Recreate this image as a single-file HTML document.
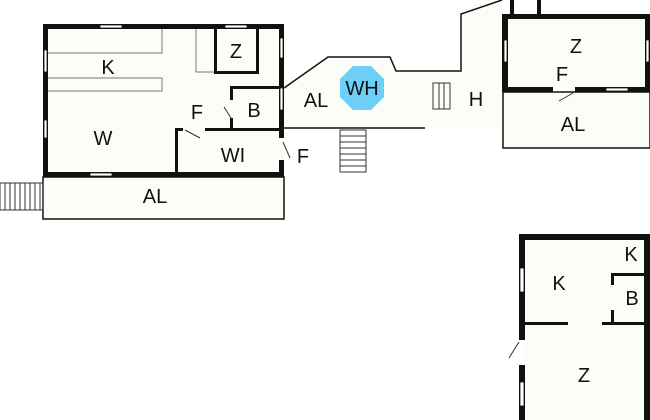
<!DOCTYPE html>
<html><head><style>body{margin:0;background:#fff}svg{display:block}text{font-family:"Liberation Sans",sans-serif;font-size:20px;fill:#111;text-anchor:middle}</style></head><body>
<svg width="650" height="420" viewBox="0 0 650 420">
<g fill="#fdfdf8" stroke="#111" stroke-width="1.5">
<rect x="43" y="177" width="241" height="42"/>
<polygon points="284,88 328,57 390,57 396,71 461,71 461,14 502,0 502,148 650,148 650,92 502,92 502,128 284,128" stroke="none"/>
<polyline points="284,88 328,57 390,57 396,71 461,71 461,14 502,0" fill="none"/>
<line x1="284" y1="128" x2="425" y2="128"/>
<rect x="503" y="92" width="147" height="56"/>
</g>
<rect x="43" y="24" width="241" height="153" fill="#fdfdf8"/>
<g fill="#111">
<rect x="43" y="24" width="241" height="5"/><rect x="43" y="24" width="5" height="153"/>
<rect x="279" y="24" width="5" height="153"/><rect x="43" y="172" width="241" height="5"/>
<rect x="214" y="29" width="3" height="44"/><rect x="256" y="29" width="3" height="44"/><rect x="214" y="71" width="45" height="3"/>
<rect x="230" y="86" width="50" height="3"/><rect x="230" y="86" width="3" height="14"/><rect x="230" y="118" width="3" height="12"/>
<rect x="175" y="128" width="8" height="3"/><rect x="205" y="128" width="75" height="3"/><rect x="175" y="128" width="3" height="44"/>
</g>
<g fill="#fff" stroke="#111" stroke-width="0.8">
<rect x="100" y="25" width="22" height="3"/><rect x="225" y="25" width="22" height="3"/>
<rect x="44" y="50" width="3" height="22"/><rect x="44" y="120" width="3" height="18"/>
<rect x="280" y="38" width="3" height="20"/><rect x="280" y="88" width="3" height="22"/>
<rect x="90" y="173" width="22" height="3"/>
</g>
<rect x="279" y="138" width="5" height="22" fill="#fdfdf8"/>
<g fill="none" stroke="#777" stroke-width="1">
<polyline points="48,53 162,53 162,29"/><polyline points="48,78 162,78 162,91 48,91"/>
<polyline points="196,29 196,72 214,72"/>
<rect x="0" y="183" width="43" height="27" stroke="#333"/>
<path d="M5 183v27M10 183v27M15 183v27M20 183v27M25 183v27M30 183v27M35 183v27M40 183v27" stroke="#333"/>
<rect x="340" y="130" width="26" height="42" stroke="#333"/>
<path d="M340 136h26M340 142h26M340 148h26M340 154h26M340 160h26M340 166h26" stroke="#333"/>
<rect x="433" y="83" width="17" height="26" stroke="#333"/><path d="M439 83v26M444 83v26" stroke="#333"/>
</g>
<g stroke="#333" stroke-width="1"><line x1="224" y1="107" x2="231" y2="118"/><line x1="185" y1="130" x2="200" y2="138"/><line x1="283" y1="142" x2="290" y2="158"/><line x1="559" y1="101" x2="573" y2="93"/><line x1="608" y1="304" x2="614" y2="288"/><line x1="509" y1="358" x2="519" y2="342"/></g>
<polygon points="353,66 371,66 384,79 384,97 371,110 353,110 340,97 340,79" fill="#6dcff6"/>
<rect x="508" y="19" width="137" height="68" fill="#fdfdf8"/>
<g fill="#111">
<rect x="502" y="14" width="148" height="5"/><rect x="502" y="14" width="6" height="78"/>
<rect x="510" y="0" width="4" height="16"/><rect x="537" y="0" width="4" height="16"/>
<rect x="645" y="14" width="5" height="78"/>
<rect x="502" y="87" width="51" height="5"/><rect x="575" y="87" width="75" height="5"/>
</g>
<g fill="#fff" stroke="#111" stroke-width="0.8"><rect x="504" y="40" width="3" height="22"/><rect x="646" y="40" width="3" height="22"/><rect x="606" y="88" width="22" height="3"/></g>
<rect x="524" y="240" width="120" height="180" fill="#fdfdf8"/>
<g fill="#111">
<rect x="519" y="234" width="131" height="6"/><rect x="519" y="234" width="6" height="106"/><rect x="519" y="365" width="6" height="55"/>
<rect x="644" y="234" width="6" height="186"/>
<rect x="525" y="322" width="43" height="3"/><rect x="602" y="322" width="48" height="3"/>
<rect x="611" y="273" width="35" height="3"/><rect x="611" y="273" width="3" height="12"/><rect x="611" y="310" width="3" height="14"/>
</g>
<g fill="#fff" stroke="#111" stroke-width="0.8"><rect x="520" y="268" width="4" height="24"/><rect x="520" y="382" width="4" height="24"/></g>
<text x="108" y="74">K</text><text x="236" y="58">Z</text><text x="197" y="119">F</text><text x="254" y="117">B</text>
<text x="103" y="145">W</text><text x="233" y="162">WI</text><text x="155" y="203">AL</text><text x="303" y="163">F</text>
<text x="316" y="107">AL</text><text x="362" y="95">WH</text><text x="476" y="106">H</text>
<text x="576" y="53">Z</text><text x="562" y="81">F</text><text x="573" y="131">AL</text>
<text x="631" y="261">K</text><text x="559" y="290">K</text><text x="632" y="305">B</text><text x="584" y="382">Z</text>
</svg>
</body></html>
